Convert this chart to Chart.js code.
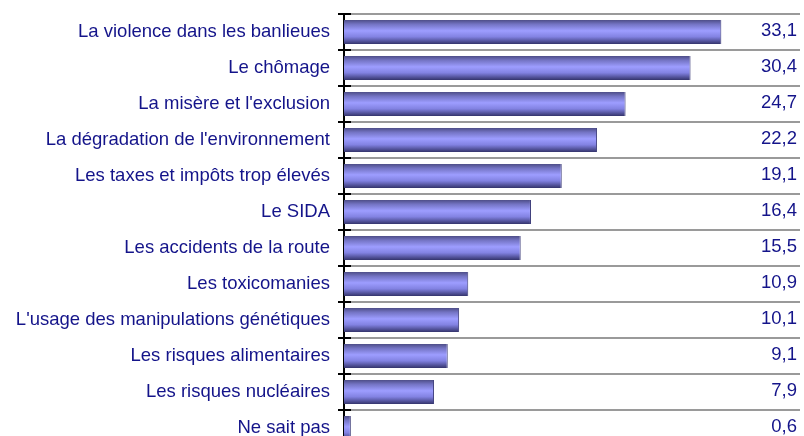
<!DOCTYPE html>
<html>
<head>
<meta charset="utf-8">
<script src="https://cdn.jsdelivr.net/npm/chart.js@4/dist/chart.umd.min.js"></script>
<style>
  html, body { margin: 0; padding: 0; background: #fff; overflow: hidden; }
</style>
</head>
<body>
<canvas id="bar-chart" width="804" height="460"></canvas>
<script>
// data
var categories = [
  "La violence dans les banlieues",
  "Le chômage",
  "La misère et l'exclusion",
  "La dégradation de l'environnement",
  "Les taxes et impôts trop élevés",
  "Le SIDA",
  "Les accidents de la route",
  "Les toxicomanies",
  "L'usage des manipulations génétiques",
  "Les risques alimentaires",
  "Les risques nucléaires",
  "Ne sait pas"
];
var values = [33.1, 30.4, 24.7, 22.2, 19.1, 16.4, 15.5, 10.9, 10.1, 9.1, 7.9, 0.6];
var valueLabels = ["33,1", "30,4", "24,7", "22,2", "19,1", "16,4", "15,5", "10,9", "10,1", "9,1", "7,9", "0,6"];

var FONT = "'Liberation Sans', Arial, sans-serif";
var NAVY = "#14148a";

// vertical gradient for each bar
function barFill(ctx) {
  var chart = ctx.chart;
  var y = chart.scales.y;
  if (!chart.chartArea || !y) return "#9999ff";
  var c = y.getPixelForValue(ctx.dataIndex);
  var g = chart.ctx.createLinearGradient(0, c - 12, 0, c + 12);
  g.addColorStop(0, "#4e4e88");
  g.addColorStop(0.18, "#7474c4");
  g.addColorStop(0.45, "#9d9dff");
  g.addColorStop(0.7, "#8282e2");
  g.addColorStop(1, "#34346c");
  return g;
}

var extras = {
  id: "extras",
  afterDraw: function(chart) {
    var ctx = chart.ctx, y = chart.scales.y, area = chart.chartArea;
    ctx.save();
    // tick marks crossing into the plot
    ctx.strokeStyle = "#000";
    ctx.lineWidth = 2;
    for (var i = 0; i <= categories.length; i++) {
      var p = y.getPixelForValue(i - 0.5);
      ctx.beginPath();
      ctx.moveTo(area.left, p);
      ctx.lineTo(area.left + 7, p);
      ctx.stroke();
    }
    // value labels at right
    ctx.fillStyle = NAVY;
    ctx.font = "18.5px " + FONT;
    ctx.textAlign = "right";
    ctx.textBaseline = "middle";
    for (var j = 0; j < valueLabels.length; j++) {
      ctx.fillText(valueLabels[j], area.right - 3, y.getPixelForValue(j) - 1);
    }
    ctx.restore();
  }
};

new Chart(document.getElementById("bar-chart"), {
  type: "bar",
  data: {
    labels: categories,
    datasets: [{
      data: values,
      backgroundColor: barFill,
      borderColor: "#3a3a78",
      borderWidth: { top: 0, bottom: 0, left: 0, right: 1 },
      borderSkipped: false,
      categoryPercentage: 1,
      barPercentage: 0.67
    }]
  },
  options: {
    indexAxis: "y",
    responsive: false,
    animation: false,
    layout: { padding: { top: 14, right: 4, bottom: 14, left: 0 } },
    plugins: { legend: { display: false }, tooltip: { enabled: false } },
    scales: {
      x: {
        display: false,
        min: 0,
        max: 40
      },
      y: {
        afterFit: function(scale) {
          scale.width = 344;
          scale.paddingTop = 0;
          scale.paddingBottom = 0;
        },
        border: { display: true, color: "#000", width: 2 },
        grid: {
          offset: true,
          color: "#9a9a9a",
          lineWidth: 2,
          tickColor: "#000",
          tickLength: 6
        },
        ticks: {
          color: NAVY,
          font: { family: FONT, size: 18.5 },
          padding: 8
        }
      }
    }
  },
  plugins: [extras]
});
</script>
</body>
</html>
